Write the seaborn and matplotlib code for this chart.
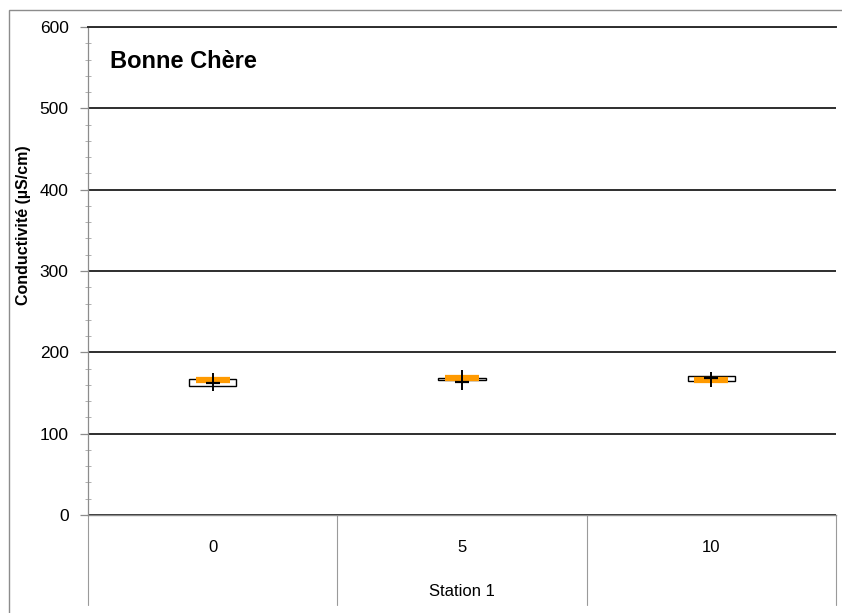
import matplotlib
matplotlib.use("Agg")
import matplotlib.pyplot as plt
from matplotlib.patches import Rectangle
from matplotlib.ticker import MultipleLocator
import pandas as pd
import seaborn as sns

# values (µS/cm)
stations = ["0", "5", "10"]
q1 = [159, 166, 165]
q3 = [167, 169, 171]
medians = [166, 168, 166]
means = [162, 164, 168]
mins = [152, 154, 157]
maxs = [175, 178, 176]

sns.set_theme(style="white")
plt.rcParams["font.family"] = ["Liberation Sans", "DejaVu Sans"]
plt.rcParams["text.color"] = "black"
plt.rcParams["axes.labelcolor"] = "black"
plt.rcParams["xtick.labelcolor"] = "black"
plt.rcParams["ytick.labelcolor"] = "black"

fig = plt.figure(figsize=(8.42, 6.13), dpi=100)
ax = fig.add_axes([88 / 842, 1 - 515 / 613, 748 / 842, 488 / 613])

df = pd.DataFrame({"station": stations, "median": medians, "mean": means})

# boxes (quartiles) from the stat arrays
stats = [{"q1": a, "q3": b, "med": m, "whislo": a, "whishi": b, "fliers": [], "label": s}
         for a, b, m, s in zip(q1, q3, medians, stations)]
ax.bxp(stats, positions=range(len(stations)), widths=0.19, showcaps=False,
       showfliers=False, patch_artist=True,
       boxprops=dict(facecolor="white", edgecolor="black", linewidth=1.0),
       medianprops=dict(linewidth=0), whiskerprops=dict(linewidth=0),
       zorder=3)

# orange median bar and black mean tick
sns.scatterplot(data=df, x="station", y="median", marker="_", s=600,
                color="#ff9a00", linewidth=4.5, ax=ax, zorder=4)
# min-max line through the box
ax.vlines(range(len(stations)), mins, maxs, color="black", linewidth=1.4, zorder=5)
sns.scatterplot(data=df, x="station", y="mean", marker="_", s=110,
                color="black", linewidth=1.6, ax=ax, zorder=6)

ax.set_xlim(-0.5, 2.5)
ax.set_ylim(0, 600)
ax.yaxis.set_major_locator(MultipleLocator(100))
ax.yaxis.set_minor_locator(MultipleLocator(20))
ax.grid(axis="y", which="major", color="#2e2e2e", linewidth=1.4)
ax.yaxis.get_gridlines()[0].set_visible(False)

ax.spines["right"].set_visible(False)
ax.spines["top"].set_color("#2e2e2e")
ax.spines["top"].set_linewidth(1.4)
ax.spines["left"].set_color("#8c8c8c")
ax.spines["left"].set_linewidth(0.9)
ax.spines["bottom"].set_color("#8c8c8c")
ax.spines["bottom"].set_linewidth(1.0)

ax.tick_params(axis="y", which="major", direction="out", length=6, width=0.9,
               color="#8c8c8c", labelsize=12.5, pad=8, left=True)
ax.tick_params(axis="y", which="minor", direction="inout", length=4, width=0.7,
               color="#b0b0b0", left=True)
ax.tick_params(axis="x", length=0, labelsize=12, pad=18)

ax.set_ylabel("Conductivité (µS/cm)", fontsize=11.5, fontweight="bold")
ax.yaxis.set_label_coords(-0.076, 0.594)
ax.set_xlabel("Station 1", fontsize=12, labelpad=21)

# category separators running below the axis
for xs in [-0.5, 0.5, 1.5, 2.5]:
    ax.plot([xs, xs], [0, -0.185], transform=ax.get_xaxis_transform(),
            color="#9a9a9a", linewidth=0.8, clip_on=False)

ax.text(0.03, 0.93, "Bonne Chère", transform=ax.transAxes, fontsize=17,
        fontweight="bold", va="center", ha="left")

# outer chart frame
fig.add_artist(Rectangle((9 / 842, -0.05), 1.1, 1.05 - 10 / 613,
                         transform=fig.transFigure, fill=False,
                         edgecolor="#8c8c8c", linewidth=1.0))

fig.savefig("out.png", dpi=100)
